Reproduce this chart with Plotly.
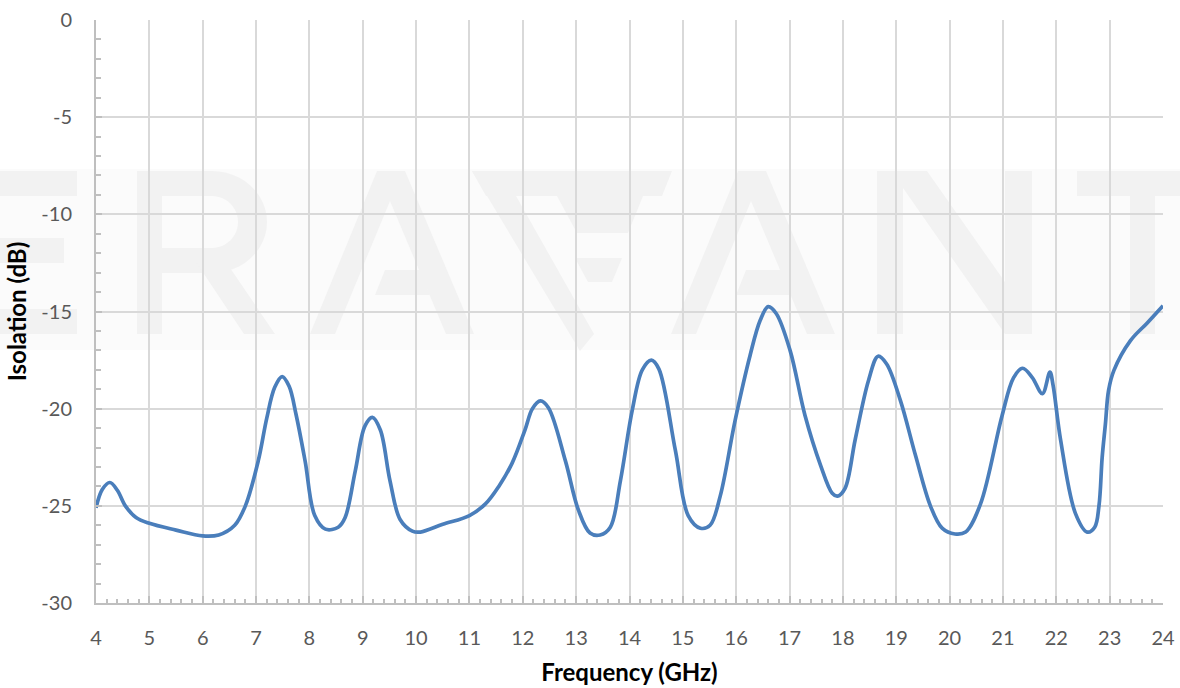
import math
import plotly.graph_objects as go

# ---------------- data ----------------
freq = [4.0, 4.12, 4.26, 4.4, 4.55, 4.75, 5.0, 5.5, 6.0, 6.3, 6.6, 6.8, 7.04, 7.2, 7.35,
        7.49, 7.62, 7.75, 7.92, 8.1, 8.3, 8.54, 8.67, 8.86, 9.04, 9.18, 9.33, 9.51,
        9.7, 9.93, 10.08, 10.5, 11.0, 11.3, 11.55, 11.8, 12.04, 12.18, 12.33, 12.48,
        12.8, 13.04, 13.26, 13.45, 13.64, 13.83, 14.05, 14.24, 14.41, 14.55, 14.86,
        15.1, 15.33, 15.51, 15.7, 15.98, 16.26, 16.45, 16.6, 16.75, 17.01, 17.29,
        17.58, 17.8, 17.9, 18.04, 18.23, 18.48, 18.66, 18.82, 19.08, 19.36, 19.64,
        19.86, 20.1, 20.3, 20.58, 20.98, 21.2, 21.37, 21.55, 21.74, 21.88, 21.94,
        22.08, 22.36, 22.58, 22.72, 22.8, 22.86, 22.92, 22.98, 23.08, 23.39, 23.7,
        24.0]
isolation = [-25.1, -24.15, -23.8, -24.2, -25.0, -25.6, -25.9, -26.25, -26.55, -26.5,
             -26.0, -25.0, -22.7, -20.5, -18.9, -18.35, -18.85, -20.3, -22.7, -25.5,
             -26.2, -26.1, -25.6, -23.2, -20.9, -20.45, -21.1, -23.7, -25.7, -26.3,
             -26.35, -25.95, -25.5, -24.9, -24.0, -22.8, -21.1, -20.0, -19.6, -19.95,
             -22.7, -25.2, -26.4, -26.5, -26.1, -23.7, -20.1, -18.0, -17.5, -17.95,
             -22.15, -25.5, -26.15, -26.0, -24.5, -20.6, -17.26, -15.45, -14.75, -15.1,
             -17.0, -20.35, -22.9, -24.35, -24.5, -24.1, -21.6, -18.55, -17.3, -17.7,
             -19.6, -22.4, -25.0, -26.15, -26.45, -26.35, -24.9, -20.4, -18.4, -17.92,
             -18.4, -19.23, -18.12, -18.8, -21.6, -25.4, -26.35, -26.1, -25.0, -22.5,
             -20.8, -19.06, -18.03, -16.5, -15.6, -14.7]

x_tickvals = list(range(4, 25))
y_tickvals = [0, -5, -10, -15, -20, -25, -30]

# ---------------- layout constants ----------------
W, H = 1180, 688
L, R, T, B = 96, 1163, 20, 603

FONT = "Lato"
LETTER = "#f2f2f2"
BAND = "#fbfbfb"


def P(px, py):
    return ((px - L) / (R - L), (B - py) / (B - T))


def poly(points):
    parts = []
    for i, (px, py) in enumerate(points):
        xp, yp = P(px, py)
        parts.append(("M" if i == 0 else "L") + f"{xp:.5f},{yp:.5f}")
    return " ".join(parts) + " Z"


def half_ellipse(x0, cx, cy, rx, ry, n=24):
    pts = [(x0, cy - ry), (cx, cy - ry)]
    for k in range(1, n):
        a = -math.pi / 2 + math.pi * k / n
        pts.append((cx + rx * math.cos(a), cy + ry * math.sin(a)))
    pts += [(cx, cy + ry), (x0, cy + ry)]
    return pts


shapes = []


def add(points, color=LETTER):
    shapes.append(dict(type="path", path=poly(points), xref="paper", yref="paper",
                       fillcolor=color, line=dict(width=0), layer="below"))


# watermark band
add([(-20, 169), (1200, 169), (1200, 350), (-20, 350)], BAND)
# E (cut at left edge)
add([(-20, 171), (77, 171), (77, 196), (-20, 196)])
add([(-20, 238), (64, 238), (64, 263), (-20, 263)])
add([(-20, 309), (77, 309), (77, 334), (-20, 334)])
# R
add(half_ellipse(150, 212, 222, 55, 51))
add(half_ellipse(150, 212, 222, 26, 26), BAND)
add([(137, 171), (162, 171), (162, 334), (137, 334)])
add([(196, 262), (226, 262), (275, 334), (244, 334)])


def letter_a(dx):
    add([(310 + dx, 334), (377 + dx, 171), (405 + dx, 171), (474 + dx, 334)])
    add([(335 + dx, 334), (390 + dx, 201), (446 + dx, 334)], BAND)
    add([(385 + dx, 270), (420 + dx, 270), (430 + dx, 295), (375 + dx, 295)])


letter_a(0)
# stylised F
add([(472, 171), (672, 171), (662, 196), (486, 196)])
add([(472, 171), (502, 171), (594, 334), (580, 351)])
add([(557, 196), (643, 196), (628, 233), (577, 233)])
add([(575, 258), (622, 258), (612, 282), (588, 282)])
letter_a(361)
# N
add([(877, 334), (877, 171), (927, 171), (1005, 282), (1005, 171), (1032, 171),
     (1032, 334), (1005, 334), (903, 188), (903, 334)])
# T
add([(1077, 171), (1215, 171), (1215, 196), (1077, 196)])
add([(1130, 196), (1155, 196), (1155, 334), (1130, 334)])

# ---------------- figure ----------------
fig = go.Figure()
fig.add_trace(go.Scatter(
    x=freq, y=isolation, mode="lines",
    line=dict(color="#4a7ebb", width=3.7, shape="spline", smoothing=1.0),
    showlegend=False, hoverinfo="x+y"))

GRID = "#d9d9d9"
AXIS = "#bfbfbf"
TICKF = dict(family=FONT, size=20, color="#595959")
TITLEF = dict(family=FONT, size=24, color="#000000", weight="bold")

fig.update_layout(
    width=W, height=H,
    margin=dict(l=L, r=W - R, t=T, b=H - B, autoexpand=False),
    paper_bgcolor="white", plot_bgcolor="white",
    shapes=shapes,
    xaxis=dict(
        range=[4, 24], tickmode="array", tickvals=x_tickvals,
        ticktext=[str(v) for v in x_tickvals],
        showgrid=True, gridcolor=GRID, gridwidth=1.5,
        showline=True, linecolor=AXIS, linewidth=2,
        ticks="inside", ticklen=7, tickwidth=1.5, tickcolor=AXIS,
        minor=dict(dtick=0.2, ticks="inside", ticklen=4, tickwidth=1.5,
                   tickcolor=AXIS, showgrid=False),
        zeroline=False, tickfont=TICKF, ticklabelstandoff=16,
        title=dict(text="Frequency (GHz)", font=TITLEF, standoff=16),
        automargin=False,
    ),
    yaxis=dict(
        range=[-30, 0], tickmode="array", tickvals=y_tickvals,
        ticktext=[str(v) for v in y_tickvals],
        showgrid=True, gridcolor=GRID, gridwidth=1.5,
        showline=True, linecolor=AXIS, linewidth=2,
        ticks="inside", ticklen=6, tickwidth=1.5, tickcolor=AXIS,
        minor=dict(dtick=1, ticks="inside", ticklen=5, tickwidth=1.5,
                   tickcolor=AXIS, showgrid=False),
        zeroline=False, tickfont=TICKF, ticklabelstandoff=18,
        title=dict(text="Isolation (dB)", font=TITLEF, standoff=8),
        automargin=False,
    ),
)

fig.write_html(
    "out.html",
    config={"displayModeBar": False},
    post_script="document.body.style.margin='0';document.body.style.overflow='hidden';",
)
